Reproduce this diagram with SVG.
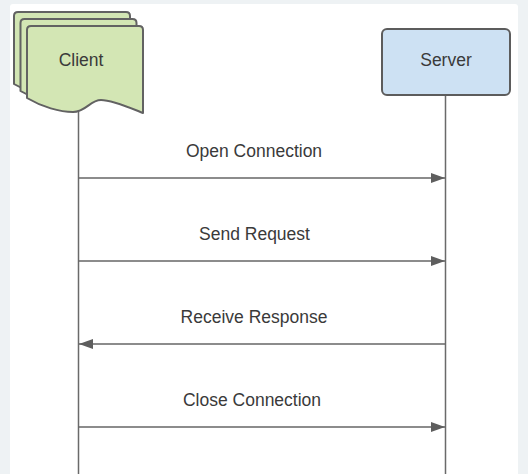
<svg xmlns="http://www.w3.org/2000/svg" width="528" height="474" viewBox="0 0 528 474">
  <style>
    .doc { fill: #d3e6b4; stroke: #626262; stroke-width: 2; stroke-linejoin: round; }
    .box { fill: #cde1f3; stroke: #5c5c5c; stroke-width: 2; }
    .lbl { font-family: "Liberation Sans", Arial, sans-serif; font-size: 17.5px; fill: #3a3a3a; text-anchor: middle; }
    .life { stroke: #6a6a6a; stroke-width: 1.5; fill: none; }
    .msg { stroke: #666; stroke-width: 1.5; fill: none; }
  </style>
  <defs>
    <marker id="ah" viewBox="0 0 14 10" refX="14" refY="5" markerWidth="14" markerHeight="10" markerUnits="userSpaceOnUse" orient="auto-start-reverse">
      <path d="M0,0 L14,5 L0,10 Z" fill="#5e5e5e"/>
    </marker>
    <path id="docShape" d="M31,26 H139 Q143,26 143,30 V113 C128,107 112,100 101,100 C90,100 86,112 73,112 C60,112 42,107 27,98 V30 Q27,26 31,26 Z"/>
  </defs>
  <rect x="0" y="0" width="528" height="474" fill="#eef2f4"/>
  <rect x="10" y="4" width="508" height="472" rx="3" fill="#ffffff"/>

  <g id="lifelines">
    <line class="life" x1="78.5" y1="111" x2="78.5" y2="474"/>
    <line class="life" x1="445.5" y1="95" x2="445.5" y2="474"/>
  </g>

  <g id="client">
    <use href="#docShape" class="doc" transform="translate(-13,-14)"/>
    <use href="#docShape" class="doc" transform="translate(-6.5,-7)"/>
    <use href="#docShape" class="doc"/>
    <text class="lbl" x="81" y="66">Client</text>
  </g>

  <g id="server">
    <rect class="box" x="382" y="29" width="128" height="66" rx="5"/>
    <text class="lbl" x="446" y="66">Server</text>
  </g>

  <g id="connectors">
    <line class="msg" x1="78.5" y1="178" x2="445" y2="178" marker-end="url(#ah)"/>
    <line class="msg" x1="78.5" y1="261" x2="445" y2="261" marker-end="url(#ah)"/>
    <line class="msg" x1="445.5" y1="344" x2="79" y2="344" marker-end="url(#ah)"/>
    <line class="msg" x1="78.5" y1="427" x2="445" y2="427" marker-end="url(#ah)"/>
    <text class="lbl" x="254" y="157">Open Connection</text>
    <text class="lbl" x="254.5" y="240">Send Request</text>
    <text class="lbl" x="254" y="323">Receive Response</text>
    <text class="lbl" x="252" y="406">Close Connection</text>
  </g>
</svg>
